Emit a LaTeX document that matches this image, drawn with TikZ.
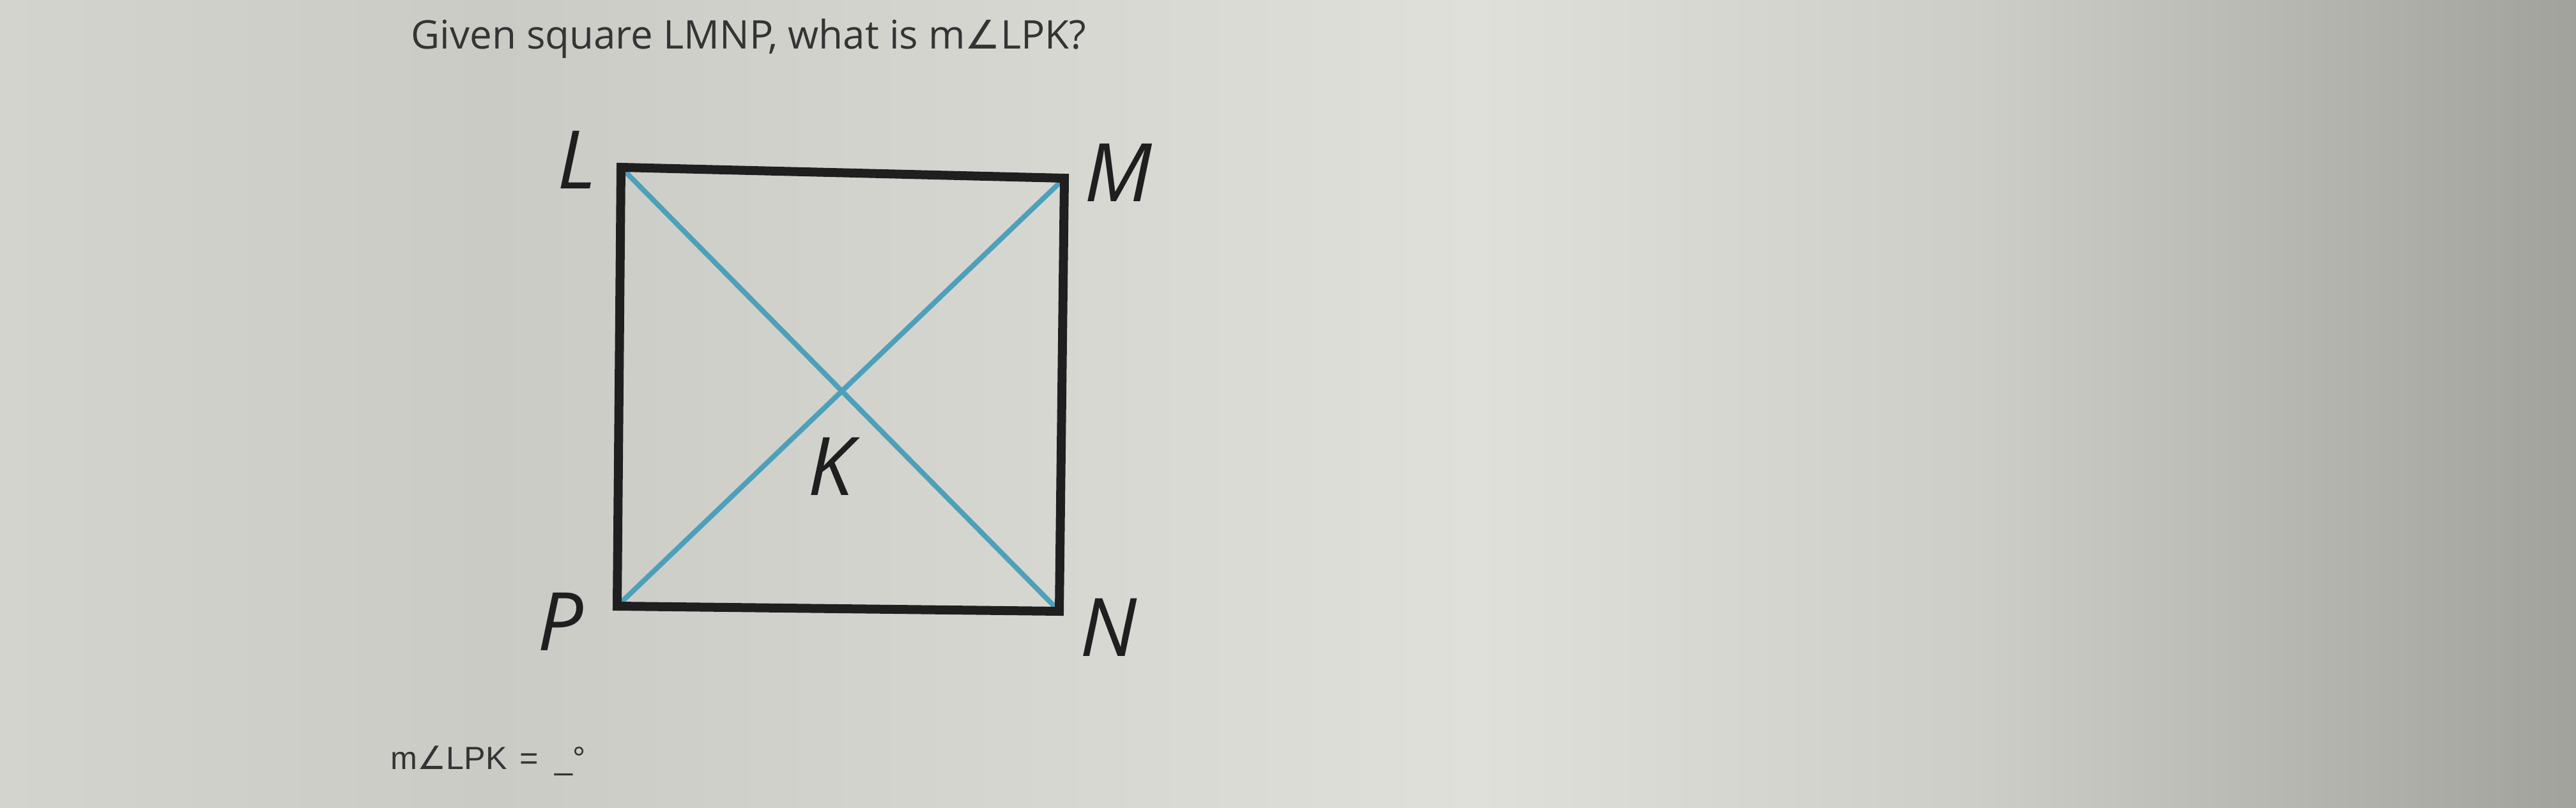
\documentclass[tikz,border=0pt]{standalone}
\usepackage{fontspec}
\setmainfont{Open Sans}
\newfontfamily\antwortfont{Liberation Sans}
\newfontfamily\zeichenfont{DejaVu Sans}
\usepackage{tikz}
\usetikzlibrary{calc}
\definecolor{bgLinks}{RGB}{212,212,207}
\definecolor{bgEins}{RGB}{203,203,198}
\definecolor{bgZwei}{RGB}{224,224,219}
\definecolor{bgDrei}{RGB}{206,206,201}
\definecolor{bgRechts}{RGB}{162,162,157}
\definecolor{diagblau}{RGB}{78,160,186}
\definecolor{textgrau}{RGB}{52,52,52}
\newcommand{\winkel}{{\zeichenfont ∠}}

\begin{document}
\begin{tikzpicture}
	\useasboundingbox (0,0) rectangle (40.32,12.64);
	% hintergrund
	\shade[left color=bgLinks,right color=bgEins] (0,0) rectangle (7.7,12.64);
	\shade[left color=bgEins,right color=bgZwei] (7.7,0) rectangle (23.1,12.64);
	\shade[left color=bgZwei,right color=bgDrei] (23.1,0) rectangle (30.9,12.64);
	\shade[left color=bgDrei,right color=bgRechts] (30.9,0) rectangle (40.32,12.64);

	\coordinate (L) at (9.72,10.02);
	\coordinate (M) at (16.66,9.85);
	\coordinate (N) at (16.58,3.07);
	\coordinate (P) at (9.66,3.15);
	\coordinate (K) at (intersection of L--N and M--P);

	\begin{scope}[every edge/.style={draw,diagblau,line width=0.8mm}]
		\path (L) edge (N);
		\path (M) edge (P);
	\end{scope}

	\begin{scope}[line width=1.4mm,line join=miter]
		\draw[black!88] (L) -- (M) -- (N) -- (P) -- cycle;
	\end{scope}

	\begin{scope}[every node/.style={inner sep=0pt,text=black!88,font=\fontsize{36}{36}\selectfont\itshape}]
		\node (labL) at (9.03,10.14) {L};
		\node (labM) at (17.50,9.94) {M};
		\node (labN) at (17.35,2.82) {N};
		\node (labP) at (8.77,2.91) {P};
		\node (labK) at (13.00,5.34) {K};
	\end{scope}

	\node[anchor=base west,inner sep=0pt,text=textgrau,font=\fontsize{17.6}{17.6}\selectfont] (frage) at (6.43,11.87) {Given square LMNP, what is m\winkel LPK?};
	\node[anchor=base west,inner sep=0pt,text=textgrau,font=\antwortfont\fontsize{14.3}{14.3}\selectfont] (antwort) at (6.11,0.60) {m\winkel LPK\hspace{0.4em}=\hspace{0.5em}\_\textdegree};
\end{tikzpicture}
\end{document}
